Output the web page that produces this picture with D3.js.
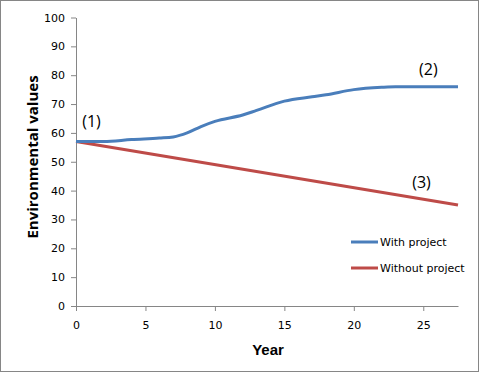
<!DOCTYPE html>
<html><head><meta charset="utf-8">
<script src="https://cdn.jsdelivr.net/npm/d3@7"></script>
<style>body{margin:0;background:#fff}svg{display:block}</style>
</head><body>
<svg id="c" width="481" height="373"></svg>
<script>
const years = [0, 2, 4, 6, 7, 8, 9, 10, 12, 13, 15, 17, 18, 20, 22, 23, 25, 27.5];
const withProject = [57, 57, 57.7, 58.2, 58.6, 60, 62.2, 64, 66.2, 67.8, 71, 72.5, 73.2, 75, 75.8, 76, 76, 76];
const withoutYears = [0, 27.5];
const withoutProject = [57, 35];
const xTicks = [0, 5, 10, 15, 20, 25];
const yTicks = [0, 10, 20, 30, 40, 50, 60, 70, 80, 90, 100];
const seriesNames = ["With project", "Without project"];
const colors = ["#4a7ebb", "#be4b48"];
const annotations = [{t:"(1)", x:0.45, y:62}, {t:"(2)", x:24.7, y:80}, {t:"(3)", x:24.2, y:41}];

const svg = d3.select("#c");
svg.append("rect").attr("x",0.5).attr("y",0.5).attr("width",478).attr("height",371)
  .attr("fill","#fff").attr("stroke","#868686").attr("stroke-width",1);

const x = d3.scaleLinear().domain([0, 27.5]).range([76, 458]);
const y = d3.scaleLinear().domain([0, 100]).range([306, 17.5]);
const font = "Tahoma, 'DejaVu Sans', sans-serif";

const xa = svg.append("g").attr("transform","translate(0,306)")
  .call(d3.axisBottom(x).tickValues(xTicks).tickSize(5).tickSizeOuter(0).tickPadding(10));
const ya = svg.append("g").attr("transform","translate(76,0)")
  .call(d3.axisLeft(y).tickValues(yTicks).tickSize(5).tickSizeOuter(0).tickPadding(6));
[xa, ya].forEach(a => {
  a.selectAll("path,line").attr("stroke","#868686");
  a.selectAll("text").attr("font-family",font).attr("font-size",11).attr("fill","#000");
});
ya.selectAll(".tick line").attr("x1",-5).attr("x2",0);

svg.append("text").attr("x",268).attr("y",355).attr("text-anchor","middle")
  .attr("font-family","'Liberation Sans', Arial, sans-serif").attr("font-weight","bold")
  .attr("font-size",15).text("Year");
svg.append("text").attr("transform","translate(38,157) rotate(-90)").attr("text-anchor","middle")
  .attr("font-family","'Open Sans', sans-serif").attr("font-weight","bold")
  .attr("font-size",15).text("Environmental values");

const line = d3.line().curve(d3.curveMonotoneX);
svg.append("path").attr("fill","none").attr("stroke",colors[1]).attr("stroke-width",3)
  .attr("d", line(withoutYears.map((d,i)=>[x(d), y(withoutProject[i])])));
svg.append("path").attr("fill","none").attr("stroke",colors[0]).attr("stroke-width",3)
  .attr("d", line(years.map((d,i)=>[x(d), y(withProject[i])])));

annotations.forEach(a => svg.append("text").attr("x",x(a.x)).attr("y",y(a.y))
  .attr("font-family","'Open Sans', sans-serif").attr("font-size",16).text(a.t));

const lg = svg.append("g");
seriesNames.forEach((n,i) => {
  const yy = 242 + i*26;
  lg.append("line").attr("x1",351).attr("x2",378).attr("y1",yy).attr("y2",yy)
    .attr("stroke",colors[i]).attr("stroke-width",3);
  lg.append("text").attr("x",380).attr("y",yy+4).attr("font-family",font)
    .attr("font-size",11).text(n);
});
</script>
</body></html>
